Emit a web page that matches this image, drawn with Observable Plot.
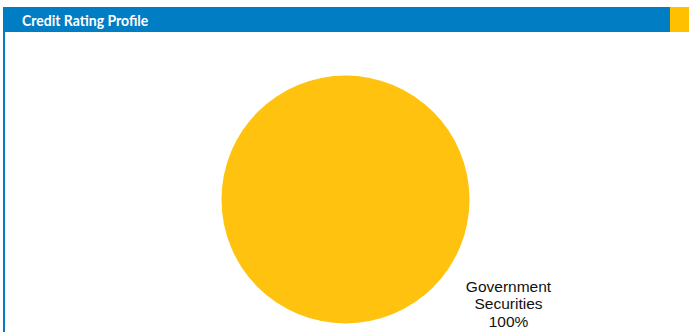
<!DOCTYPE html>
<html>
<head>
<meta charset="utf-8">
<script src="https://cdn.jsdelivr.net/npm/d3@7"></script>
<script src="https://cdn.jsdelivr.net/npm/@observablehq/plot@0.6"></script>
<style>
  html, body { margin: 0; padding: 0; background: #fff; }
  #wrap { position: relative; width: 689px; height: 332px; overflow: hidden; }
  #header {
    position: absolute; left: 3px; top: 7px; width: 686px; height: 25px;
    background: #007DC3;
  }
  #header .title {
    position: absolute; left: 19px; top: 0; line-height: 25px; white-space: nowrap;
    color: #fff; font-family: Lato, "Open Sans", sans-serif; font-weight: bold; font-size: 16px;
    transform: scaleX(0.875); transform-origin: 0 50%;
  }
  #header .swatch {
    position: absolute; right: 0; top: 0; width: 19px; height: 25px; background: #FFC000;
  }
  #border { position: absolute; left: 3px; top: 32px; width: 2px; height: 300px; background: #007DC3; }
  #chart { position: absolute; left: 0; top: 32px; width: 689px; height: 300px; }
  #chart svg { display: block; max-width: none !important; width: 689px; height: 300px; }
</style>
</head>
<body>
<div id="wrap">
  <div id="chart"></div>
  <div id="header"><span class="title">Credit Rating Profile</span><span class="swatch"></span></div>
  <div id="border"></div>
</div>
<script>
const categories = ["Government Securities"];
const labelLines = [["Government", "Securities"]];
const values = [100];
const colors = ["#FFC20E"];

const rows = categories.map((c, i) => ({category: c, value: values[i], lines: labelLines[i]}));
const total = d3.sum(values);
const arcs = d3.pie().sort(null).value(d => d.value)(rows);

const pieMark = Plot.dot(arcs, {
  frameAnchor: "middle",
  fill: d => d.data.category,
  r: 0,
  render(index, scales, values, dimensions, context) {
    const {width, height, marginLeft, marginRight, marginTop, marginBottom} = dimensions;
    const w = width - marginLeft - marginRight;
    const h = height - marginTop - marginBottom;
    const cx = marginLeft + w / 2, cy = marginTop + h / 2;
    const r = Math.min(w, h) / 2;
    const arc = d3.arc().innerRadius(0).outerRadius(r);
    const g = d3.create("svg:g").attr("transform", `translate(${cx},${cy})`);
    for (const i of index) {
      g.append("path")
        .attr("d", arc(arcs[i]))
        .attr("fill", values.fill[i]);
    }
    return g.node();
  }
});

const labelMark = Plot.text(arcs, {
  frameAnchor: "bottom-right",
  text: d => [...d.data.lines, `${Math.round(d.data.value / total * 100)}%`].join("\n"),
  textAnchor: "middle",
  lineAnchor: "middle",
  lineHeight: 1.1,
  dx: 38.5,
  dy: -20.5,
  fontSize: 15.5,
  fontFamily: "Liberation Sans, Arial, sans-serif",
  fill: "#111"
});

const plot = Plot.plot({
  width: 689,
  height: 300,
  marginLeft: 221.5,
  marginRight: 219.5,
  marginTop: 43,
  marginBottom: 8,
  x: {axis: null},
  y: {axis: null},
  color: {domain: categories, range: colors},
  style: {background: "transparent", overflow: "visible"},
  marks: [pieMark, labelMark]
});
document.getElementById("chart").appendChild(plot);
</script>
</body>
</html>
